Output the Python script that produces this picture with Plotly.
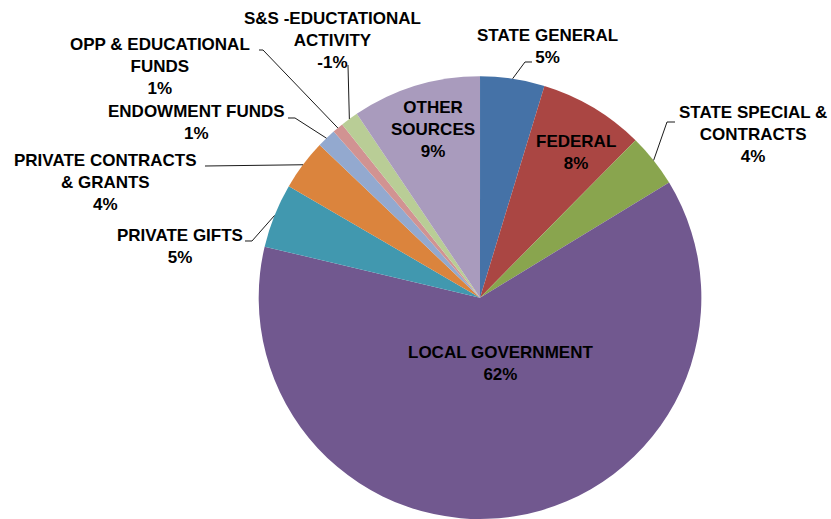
import math
import plotly.graph_objects as go

W, H = 831, 519

# Revenue sources, clockwise from 12 o'clock
categories = [
    "STATE GENERAL",
    "FEDERAL",
    "STATE SPECIAL &<br>CONTRACTS",
    "LOCAL GOVERNMENT",
    "PRIVATE GIFTS",
    "PRIVATE CONTRACTS<br>& GRANTS",
    "ENDOWMENT FUNDS",
    "OPP & EDUCATIONAL<br>FUNDS",
    "S&S -EDUCTATIONAL<br>ACTIVITY",
    "OTHER<br>SOURCES",
]
shares = [4.7, 7.7, 3.9, 62.4, 4.7, 3.7, 1.4, 0.8, -1.3, 9.4]
colors = [
    "#4572A7", "#AA4643", "#89A54E", "#71588F", "#4198AF",
    "#DB843D", "#93A9CF", "#D19392", "#B9CD96", "#A99BBD",
]

# Slices are sized by magnitude; the label keeps the sign
sizes = [abs(v) for v in shares]
total = sum(sizes)
pct_text = [f"{round(v / total * 100):d}%" for v in shares]

# Label placement (pixel centre of text block) and leader-line bends
label_layout = [
    dict(cx=547, cy=46, path=[(525, 62), (532, 62)]),
    dict(cx=576, cy=152, path=None),
    dict(cx=753, cy=135, path=[(667, 122), (675, 122)]),
    dict(cx=500, cy=363, path=None),
    dict(cx=180, cy=246, path=[(252, 241), (245, 241)]),
    dict(cx=105, cy=182, path=[(205, 166)]),
    dict(cx=196, cy=123, path=[(295, 118), (288, 118)]),
    dict(cx=160, cy=66, path=[(263, 50), (259, 50)]),
    dict(cx=332, cy=40, path=[(348, 65)]),
    dict(cx=433, cy=129, path=None),
]

dom_x = [0.3113, 0.8440]
dom_y = [0.0, 0.853]

fig = go.Figure(
    go.Pie(
        labels=[c.replace("<br>", " ") for c in categories],
        values=sizes,
        sort=False,
        direction="clockwise",
        rotation=0,
        marker=dict(colors=colors, line=dict(width=0)),
        textinfo="none",
        hoverinfo="label+percent",
        showlegend=False,
        domain=dict(x=dom_x, y=dom_y),
    )
)

# Pie geometry in pixels, derived from the domain
pw = (dom_x[1] - dom_x[0]) * W
ph = (dom_y[1] - dom_y[0]) * H
R = min(pw, ph) / 2
pcx = (dom_x[0] + dom_x[1]) / 2 * W
pcy = H - (dom_y[0] + dom_y[1]) / 2 * H


def px(x):
    return x / W


def py(y):
    return 1 - y / H


annotations = []
shapes = []
cum = 0.0
for name, size, txt, lay in zip(categories, sizes, pct_text, label_layout):
    mid = (cum + size / 2) / total
    cum += size
    theta = 2 * math.pi * mid
    ex = pcx + R * math.sin(theta)
    ey = pcy - R * math.cos(theta)

    annotations.append(
        dict(
            x=px(lay["cx"]), y=py(lay["cy"]), xref="paper", yref="paper",
            xanchor="center", yanchor="middle", align="center",
            text=f"{name}<br>{txt}", showarrow=False,
            font=dict(family="Liberation Sans, Arial, sans-serif", size=17,
                      color="#000000", weight="bold"),
        )
    )
    if lay["path"]:
        pts = [(ex, ey)] + lay["path"]
        d = "M " + " L ".join(f"{px(x):.5f},{py(y):.5f}" for x, y in pts)
        shapes.append(
            dict(type="path", path=d, xref="paper", yref="paper",
                 line=dict(color="#1a1a1a", width=1))
        )

fig.update_layout(
    width=W, height=H,
    margin=dict(l=0, r=0, t=0, b=0),
    paper_bgcolor="#FFFFFF",
    plot_bgcolor="#FFFFFF",
    annotations=annotations,
    shapes=shapes,
)

fig.write_html("out.html")
